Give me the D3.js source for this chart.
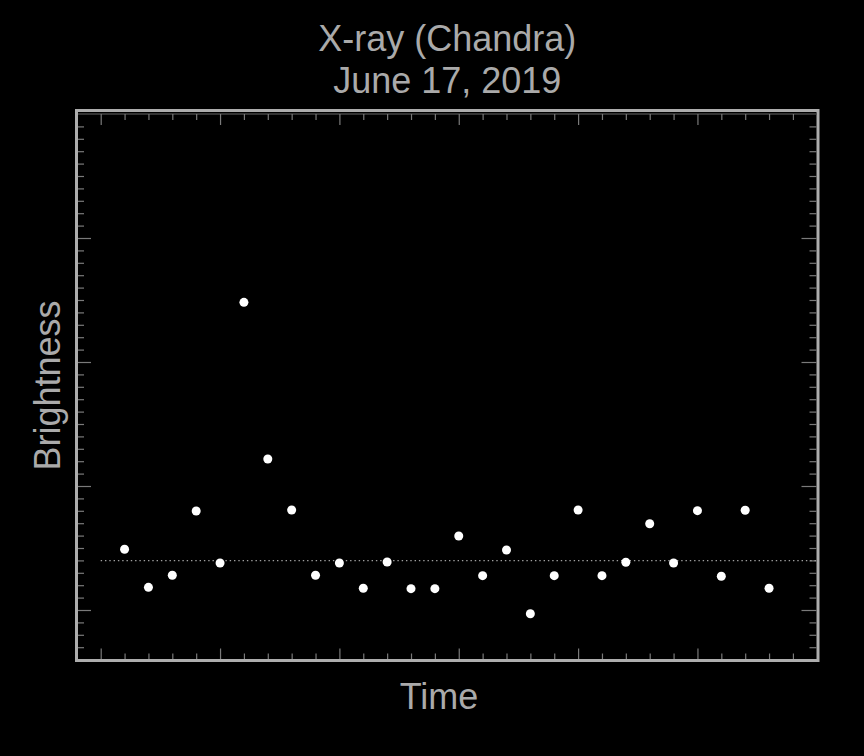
<!DOCTYPE html>
<html>
<head>
<meta charset="utf-8">
<script src="https://cdn.jsdelivr.net/npm/d3@7/dist/d3.min.js"></script>
<style>
  html, body { margin: 0; padding: 0; background: #000; }
  svg { display: block; }
  text { font-family: "Liberation Sans", Arial, sans-serif; fill: #aaaaaa; }
</style>
</head>
<body>
<svg id="chart" width="864" height="756"></svg>
<script>
// ---- data ----
const titleLines = ["X-ray (Chandra)", "June 17, 2019"];
const xLabel = "Time";
const yLabel = "Brightness";
const timeIndex = d3.range(1, 29);
const brightness = [
  0.490, 0.183, 0.280, 0.798, 0.379, 2.481, 1.218, 0.806, 0.280, 0.379,
  0.175, 0.387, 0.172, 0.172, 0.597, 0.277, 0.484, -0.030, 0.277, 0.806,
  0.277, 0.385, 0.696, 0.379, 0.801, 0.272, 0.804, 0.175
];
const referenceLevel = 0.398;
const xMajorTicks = [0, 5, 10, 15, 20, 25, 30];
const xMinorTicks = d3.range(0, 31).filter(v => v % 5 !== 0);
const yMajorTicks = [0, 1, 2, 3];
const yMinorTicks = d3.range(-3, 40).filter(v => v % 10 !== 0).map(v => v / 10);

// ---- layout ----
const svg = d3.select("#chart");
const frame = {left: 76.5, right: 818, top: 110.5, bottom: 660.5};

const x = d3.scaleLinear().domain([0, 30]).range([100.7, 816.8]);
const y = d3.scaleLinear().domain([0, 4]).range([610, 114]);

// frame
svg.append("rect")
  .attr("x", frame.left).attr("y", frame.top)
  .attr("width", frame.right - frame.left).attr("height", frame.bottom - frame.top)
  .attr("fill", "none").attr("stroke", "#adadad").attr("stroke-width", 3);

const tickColor = "#7a7a7a";
function styleAxis(g) {
  g.select(".domain").remove();
  g.selectAll(".tick line").attr("stroke", tickColor).attr("stroke-width", 1.2);
  g.selectAll(".tick text").remove();
}

// top dark line (axis top)
svg.append("line")
  .attr("x1", frame.left + 1.5).attr("x2", frame.right - 1.5)
  .attr("y1", y(4)).attr("y2", y(4))
  .attr("stroke", "#444").attr("stroke-width", 1.5);

const innerBottom = frame.bottom - 1.5;
const innerLeft = frame.left + 1.5;
const innerRight = frame.right - 1.5;

// bottom axis (ticks pointing up)
svg.append("g").attr("transform", `translate(0,${innerBottom})`)
  .call(d3.axisBottom(x).tickValues(xMinorTicks).tickSize(-5.5).tickFormat(""))
  .call(styleAxis);
svg.append("g").attr("transform", `translate(0,${innerBottom})`)
  .call(d3.axisBottom(x).tickValues(xMajorTicks.slice(0, -1)).tickSize(-10.5).tickFormat(""))
  .call(styleAxis);
// top axis (ticks pointing down)
svg.append("g").attr("transform", `translate(0,${y(4)})`)
  .call(d3.axisTop(x).tickValues(xMinorTicks).tickSize(-6).tickFormat(""))
  .call(styleAxis);
svg.append("g").attr("transform", `translate(0,${y(4)})`)
  .call(d3.axisTop(x).tickValues(xMajorTicks.slice(0, -1)).tickSize(-11).tickFormat(""))
  .call(styleAxis);
// left axis (ticks pointing right)
svg.append("g").attr("transform", `translate(${innerLeft},0)`)
  .call(d3.axisLeft(y).tickValues(yMinorTicks).tickSize(-6).tickFormat(""))
  .call(styleAxis);
svg.append("g").attr("transform", `translate(${innerLeft},0)`)
  .call(d3.axisLeft(y).tickValues(yMajorTicks).tickSize(-13).tickFormat(""))
  .call(styleAxis);
// right axis (ticks pointing left)
svg.append("g").attr("transform", `translate(${innerRight},0)`)
  .call(d3.axisRight(y).tickValues(yMinorTicks).tickSize(-7).tickFormat(""))
  .call(styleAxis);
svg.append("g").attr("transform", `translate(${innerRight},0)`)
  .call(d3.axisRight(y).tickValues(yMajorTicks).tickSize(-15).tickFormat(""))
  .call(styleAxis);

// reference dotted line
svg.append("line")
  .attr("x1", x(0)).attr("x2", x(30))
  .attr("y1", y(referenceLevel)).attr("y2", y(referenceLevel))
  .attr("stroke", "#a0a0a0").attr("stroke-width", 1.2)
  .attr("stroke-dasharray", "1.4,2.9");

// points
svg.append("g").selectAll("circle")
  .data(brightness)
  .join("circle")
  .attr("cx", (d, i) => x(timeIndex[i]))
  .attr("cy", d => y(d))
  .attr("r", 4.5)
  .attr("fill", "#ffffff");

// title
const cx = (frame.left + frame.right) / 2;
svg.append("text").attr("x", cx).attr("y", 51).attr("text-anchor", "middle")
  .attr("font-size", 36).text(titleLines[0]);
svg.append("text").attr("x", cx).attr("y", 93).attr("text-anchor", "middle")
  .attr("font-size", 36).text(titleLines[1]);

// axis labels
svg.append("text").attr("x", 439).attr("y", 709).attr("text-anchor", "middle")
  .attr("font-size", 36).text(xLabel);
svg.append("text")
  .attr("transform", `translate(60,${(frame.top + frame.bottom) / 2}) rotate(-90)`)
  .attr("text-anchor", "middle").attr("font-size", 36).text(yLabel);
</script>
</body>
</html>
